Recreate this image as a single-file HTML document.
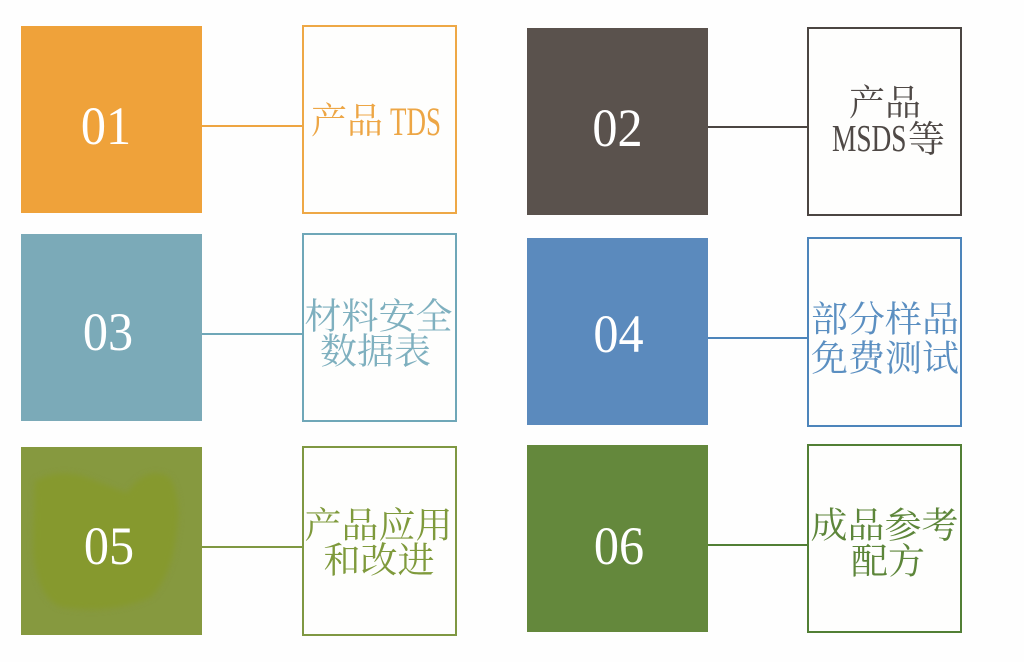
<!DOCTYPE html>
<html lang="zh">
<head>
<meta charset="utf-8">
<style>
html,body{margin:0;padding:0;background:#fefefe;}
#c{position:relative;width:1024px;height:662px;overflow:hidden;background:#fefefe;font-family:"Liberation Serif","Noto Serif CJK SC",serif;}
.s,.b,.l,.t,.n,.u{position:absolute;box-sizing:border-box;}
.n{color:#fff;font-size:54px;line-height:60px;text-align:center;transform:scaleX(.93);}
.b{border:2px solid;background:#fefefd;}
.l{height:2px;}
.t{font-size:37px;line-height:39px;text-align:center;white-space:nowrap;width:200px;transform:scaleY(.97);}
.u{line-height:39px;white-space:nowrap;transform-origin:0 50%;}
</style>
</head>
<body>
<div id="c">
<div class="s" style="left:21px;top:26px;width:181px;height:187px;background:#efa23a"></div>
<div class="n" style="left:21px;top:96px;width:170px">01</div>
<div class="l" style="left:202px;top:125px;width:100px;background:#eea542"></div>
<div class="b" style="left:302px;top:25px;width:155px;height:189px;border-color:#eea846"></div>
<div class="t" style="left:297px;top:102px;width:100px;color:#eda645;font-size:36px;transform:none">产品</div>
<div class="u" style="left:390px;top:102px;font-size:40px;color:#eda645;transform:scaleX(.675)">TDS</div>

<div class="s" style="left:527px;top:28px;width:181px;height:187px;background:#5a524d"></div>
<div class="n" style="left:527px;top:98px;width:181px">02</div>
<div class="l" style="left:708px;top:126px;width:99px;background:#4b4542"></div>
<div class="b" style="left:807px;top:27px;width:155px;height:189px;border-color:#4b4542"></div>
<div class="t" style="left:785px;top:84px;color:#4f4946;font-size:36px;transform:none">产品</div>
<div class="u" style="left:832px;top:120px;font-size:38px;color:#4f4946;transform:scaleX(.72)">MSDS</div>
<div class="u" style="left:908px;top:121px;font-size:37px;color:#4f4946">等</div>

<div class="s" style="left:21px;top:234px;width:181px;height:187px;background:#7baab8"></div>
<div class="n" style="left:21px;top:302px;width:174px">03</div>
<div class="l" style="left:202px;top:333px;width:100px;background:#6fa7b8"></div>
<div class="b" style="left:302px;top:233px;width:155px;height:189px;border-color:#6fa7b8"></div>
<div class="t" style="left:278.5px;top:298px;color:#7fb0bf">材料安全</div>
<div class="t" style="left:275.5px;top:333px;color:#7fb0bf">数据表</div>

<div class="s" style="left:527px;top:238px;width:181px;height:187px;background:#5b8abd"></div>
<div class="n" style="left:527px;top:304px;width:183px">04</div>
<div class="l" style="left:708px;top:337px;width:99px;background:#4d85bb"></div>
<div class="b" style="left:807px;top:237px;width:155px;height:190px;border-color:#4d85bb"></div>
<div class="t" style="left:785px;top:300.5px;color:#5b8fc1">部分样品</div>
<div class="t" style="left:785px;top:339.5px;color:#5b8fc1">免费测试</div>

<div class="s" style="left:21px;top:447px;width:181px;height:188px;background:#86993f"></div>
<svg class="s" style="left:21px;top:447px" width="181" height="188"><path d="M14 34Q40 20 70 32Q95 42 106 46Q125 18 148 30Q162 50 155 90Q150 130 130 150Q90 168 40 160Q15 150 12 100Z" fill="#86992e" style="filter:blur(3px)"/></svg>
<div class="n" style="left:21px;top:516px;width:176px">05</div>
<div class="l" style="left:202px;top:546px;width:100px;background:#7f9842"></div>
<div class="b" style="left:302px;top:446px;width:155px;height:190px;border-color:#7f9842"></div>
<div class="t" style="left:278.5px;top:507px;color:#7f9a3c">产品应用</div>
<div class="t" style="left:279px;top:542px;color:#7f9a3c">和改进</div>

<div class="s" style="left:527px;top:445px;width:181px;height:187px;background:#64883c"></div>
<div class="n" style="left:527px;top:516px;width:184px">06</div>
<div class="l" style="left:708px;top:544px;width:99px;background:#527f35"></div>
<div class="b" style="left:807px;top:444px;width:155px;height:189px;border-color:#527f35"></div>
<div class="t" style="left:784.5px;top:507px;color:#5d863a">成品参考</div>
<div class="t" style="left:788px;top:542.5px;color:#5d863a">配方</div>
</div>
</body>
</html>
